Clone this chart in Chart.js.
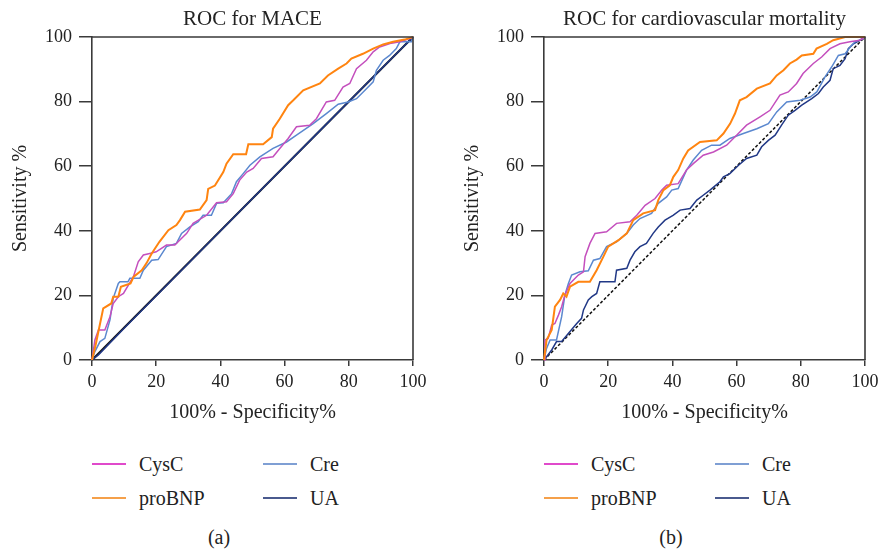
<!DOCTYPE html>
<html>
<head>
<meta charset="utf-8">
<script src="https://cdn.jsdelivr.net/npm/chart.js@4.4.0/dist/chart.umd.min.js"></script>
<style>
  body { margin: 0; background: #fff; font-family: "Liberation Serif", "DejaVu Serif", serif; color: #222; }
  #wrap { position: relative; width: 883px; height: 554px; }
  canvas { position: absolute; top: 0; }
  .leg-line { position: absolute; height: 2px; }
  .leg-text { position: absolute; font-size: 20px; line-height: 24px; white-space: nowrap; }
  .panel-tag { position: absolute; font-size: 20px; line-height: 24px; width: 60px; text-align: center; }
</style>
</head>
<body>
<div id="wrap">
  <canvas id="chartA" width="441" height="430" style="left:0px"></canvas>
  <canvas id="chartB" width="431" height="430" style="left:452px"></canvas>
</div>
<script>
// points are [100% - specificity, sensitivity]
const seriesNames = ['CysC', 'proBNP', 'Cre', 'UA'];
const lineColors = { CysC: '#c44fbd', proBNP: '#ff8410', Cre: '#5b88cf', UA: '#213886' };
const legendColors = { CysC: '#e04acb', proBNP: '#f5a04a', Cre: '#7f9fd4', UA: '#4a5a8e' };
const xTicks = [0, 20, 40, 60, 80, 100];
const yTicks = [0, 20, 40, 60, 80, 100];
const diagonal = [[0, 0], [100, 100]];

// (a) ROC for MACE
const aCysC = [[0,0],[0.9,6.2],[2,9.3],[4,9.3],[5.6,13.4],[6.6,17.5],[8.2,19.6],[9.8,20.6],[12.9,25.8],[14.4,30.4],[16,32.5],[18,33],[20,33.5],[23.2,35.6],[25.8,35.6],[29.5,39.2],[31.5,42.3],[35.7,44.8],[38.8,48.7],[41.9,49],[44,51.5],[46,55.7],[48.2,58.2],[50.2,59.3],[52.8,62.4],[56.4,62.9],[58.5,65.5],[61.1,68.6],[63.7,72.2],[67.8,72.7],[69.9,74.7],[73,79.9],[75.6,80.4],[78.2,84.5],[80.3,85.6],[82.4,90.2],[85.5,92.8],[87.6,95.4],[89.6,96.9],[93.3,98.1],[95.9,98.5],[99,99.5],[100,100]];
const aProBNP = [[0,0],[1,4],[2,8.8],[3.5,16],[6,17.5],[6.6,19.6],[8.2,19.6],[9,22.7],[12,23.7],[13,25.8],[15.5,27.8],[17,30],[18.6,33],[21,36.6],[23.8,40.2],[26.3,41.8],[27.4,43.3],[29,45.9],[33.6,46.6],[35.7,49.5],[36.2,53],[38.3,54],[40.9,58.2],[41.9,60.8],[44,63.7],[48,63.7],[48.7,66.8],[53.3,66.8],[56,69],[56.4,71.6],[58.5,74.7],[61.1,78.9],[62.7,80.4],[65.8,83.5],[71,85.6],[73.5,88.1],[76.7,90.2],[79.3,91.8],[80.8,93.3],[84.4,94.8],[87.6,96.4],[90.7,97.7],[93.8,98.5],[97.4,99.2],[100,100]];
const aCre = [[0,0],[0.9,2.6],[2.5,5.7],[4,6.7],[5.6,12.4],[6.6,19.1],[8.2,23.7],[8.7,24.2],[11.2,24.2],[11.8,25.3],[14.9,25.3],[16,27.8],[18.6,30.9],[20.6,31.1],[23.2,35.1],[26.3,36.1],[27.9,39.2],[30.5,41.2],[33.1,42.8],[34.6,44.8],[37.2,44.8],[38.8,48.5],[40.9,48.7],[43.5,51.5],[45,55.2],[47.1,57.7],[49.2,60.3],[52.3,62.9],[56.4,65.5],[60.6,67.5],[63.7,69.6],[68.9,73.2],[73,76.3],[76.7,79.2],[79.8,79.9],[82.4,80.9],[85.5,84],[87.6,86.1],[88.6,89.7],[90.7,92.8],[92.7,94.3],[94.8,96.4],[95.9,98.5],[99.5,98.5],[100,100]];
const aUA = [[0,0],[2,1.6],[10,9.8],[30,29.9],[50,50],[70,70],[90,90],[100,100]];

// (b) ROC for cardiovascular mortality
const bCysC = [[0,0],[0.3,6.2],[1.3,6.7],[2.4,10.8],[3.4,11.3],[4.5,13.9],[5.5,16.5],[6.5,20.1],[8.1,23.7],[10.7,26.3],[12.3,27.3],[12.8,32],[14.3,36.1],[15.9,39.2],[19.5,39.7],[22.6,42.3],[26.8,42.8],[28.9,44.8],[31.5,47.9],[34.6,50],[36.7,52.6],[38.2,54.1],[41.8,54.6],[44.4,58.8],[46.5,60.8],[49.6,63.4],[52.8,64.4],[56.9,66.5],[60,69.6],[63.1,72.7],[67.3,75.3],[70.4,77.3],[73.5,82],[76.1,83],[78.7,85.6],[80.7,88.7],[83.9,91.8],[86.5,93.8],[89.1,96.4],[92.2,97.9],[95.3,98.5],[98.4,99],[100,100]];
const bProBNP = [[0,0],[0.8,6.2],[2.4,9.3],[3.4,16.5],[5,18.6],[6,20.6],[7,19.6],[8.1,22.7],[10.7,24.2],[14.3,24.2],[16.4,27.8],[18.5,32],[20,35.1],[23.2,37.1],[25.8,39.2],[27.8,43.3],[30.9,45.4],[34.6,46.4],[35.6,49.5],[37.2,52.6],[39.2,54.1],[40.3,56.7],[41.8,58.8],[43.4,62.4],[44.9,64.9],[48.6,67.5],[53.8,68],[55.9,70.1],[58,73.2],[59.5,76.3],[61,80.4],[63.1,81.4],[66.3,84],[70.4,85.6],[72.5,88.1],[74.6,89.7],[76.6,91.8],[78.7,93],[80.3,94.3],[83.9,94.8],[84.9,96.4],[88.1,97.9],[90.1,99],[93.8,100],[100,100]];
const bCre = [[0,0],[0.8,3.6],[1.9,6.2],[3.9,6.2],[5.5,13.4],[6.5,20.1],[7.6,23.7],[8.6,26.3],[11.2,27.3],[13.8,27.6],[15.4,30.9],[17.4,31.4],[19.5,35.1],[22.6,36.6],[25.8,39.2],[27.8,41.8],[29.9,43.8],[33.5,45.4],[35.6,48.5],[38.2,50.5],[39.8,52.6],[41.8,53.1],[44.4,58.8],[46.5,61.9],[49.1,64.9],[52.2,66.5],[54.8,66.5],[57.9,68.6],[62.1,70.1],[66.3,71.6],[69.9,73.2],[72.5,76.8],[75.6,79.9],[79.8,80.4],[82.9,81.4],[85,83],[87.5,87.6],[89.6,90.7],[91.7,94.3],[93.8,94.8],[95.8,97.4],[96.9,98.5],[99.5,99.5],[100,100]];
const bUA = [[0,0],[0.8,1],[2.4,3.1],[3.9,5.7],[5.5,5.7],[8.1,8.8],[10.2,11.3],[11.7,12.9],[12.3,15.5],[13.8,18.6],[14.9,19.6],[16.4,20.6],[17.4,24.2],[22.1,24.2],[22.6,27.8],[25.8,28.4],[26.8,30.9],[28.3,33.5],[29.9,35.1],[31.9,36.1],[34,39.2],[35.6,41.2],[37.7,43.3],[40.2,44.8],[42.4,46.4],[45.5,46.9],[47.6,49.5],[49.6,51],[51.7,52.6],[54.8,55.2],[55.9,56.7],[57.9,57.7],[60.6,60.3],[63.1,62.4],[66.3,63.4],[67.8,66],[69.9,68],[72,69.6],[74,72.7],[76.1,75.8],[78.2,77.3],[80.3,78.9],[83.4,80.9],[85.5,82.5],[87,84.5],[89.1,86.6],[90.1,90.2],[92.2,91.2],[93.8,93.3],[94.8,96.4],[96.4,97.9],[98.4,99],[100,100]];

const FONT = '"Liberation Serif", "DejaVu Serif", serif';
const INK = '#222';
const AXIS = '#3a3a3a';

const toXY = pts => pts.map(p => ({ x: p[0], y: p[1] }));

// top + right edge of the plot box
const framePlugin = {
  id: 'frame',
  afterDraw(chart) {
    const { ctx, chartArea: a } = chart;
    ctx.save();
    ctx.strokeStyle = AXIS;
    ctx.lineWidth = 1.6;
    ctx.beginPath();
    ctx.moveTo(a.left, a.top);
    ctx.lineTo(a.right, a.top);
    ctx.lineTo(a.right, a.bottom);
    ctx.stroke();
    ctx.restore();
  }
};

function makeChart(id, title, curves, dashedDiag, rightPad) {
  const sets = [];
  // proBNP on top, then CysC, Cre, UA, diagonal at the bottom
  ['proBNP', 'CysC', 'Cre', 'UA'].forEach(name => {
    sets.push({
      label: name,
      data: toXY(curves[name]),
      borderColor: lineColors[name],
      borderWidth: name === 'proBNP' ? 2 : 1.5,
      pointRadius: 0,
      tension: 0,
      clip: 4
    });
  });
  sets.push({
    label: 'reference',
    data: toXY(diagonal),
    borderColor: '#111',
    borderWidth: dashedDiag ? 1.5 : 2,
    borderDash: dashedDiag ? [3, 2] : [],
    pointRadius: 0,
    clip: 4
  });

  return new Chart(document.getElementById(id).getContext('2d'), {
    type: 'line',
    data: { datasets: sets },
    plugins: [framePlugin],
    options: {
      responsive: false,
      animation: false,
      layout: { padding: { left: 0, right: rightPad, top: 0, bottom: 0 } },
      plugins: {
        legend: { display: false },
        tooltip: { enabled: false },
        title: {
          display: true,
          fullSize: false,
          text: title,
          color: INK,
          font: { family: FONT, size: 21, weight: 'normal' },
          padding: { top: 6.4, bottom: 5.4 }
        }
      },
      scales: {
        x: {
          type: 'linear', min: 0, max: 100,
          afterBuildTicks: s => { s.ticks = xTicks.map(v => ({ value: v })); },
          afterFit: s => { s.height = 70; s.paddingLeft = 0; s.paddingRight = 0; },
          ticks: { color: INK, font: { family: FONT, size: 18 }, padding: 5, maxRotation: 0 },
          grid: { drawOnChartArea: false, drawTicks: true, tickLength: 6, color: AXIS, lineWidth: 1.5 },
          border: { display: true, color: AXIS, width: 1.6 },
          title: { display: true, text: '100% - Specificity%', color: INK,
                   font: { family: FONT, size: 20 }, padding: { top: 0, bottom: 5 } }
        },
        y: {
          type: 'linear', min: 0, max: 100,
          afterBuildTicks: s => { s.ticks = yTicks.map(v => ({ value: v })); },
          afterFit: s => { s.width = 92; s.paddingTop = 0; s.paddingBottom = 0; },
          ticks: { color: INK, font: { family: FONT, size: 18 }, padding: 7 },
          grid: { drawOnChartArea: false, drawTicks: true, tickLength: 13, color: AXIS, lineWidth: 1.5 },
          border: { display: true, color: AXIS, width: 1.6 },
          title: { display: true, text: 'Sensitivity %', color: INK,
                   font: { family: FONT, size: 20 }, padding: { top: 9, bottom: 0 } }
        }
      }
    }
  });
}

makeChart('chartA', 'ROC for MACE', { CysC: aCysC, proBNP: aProBNP, Cre: aCre, UA: aUA }, false, 28);
makeChart('chartB', 'ROC for cardiovascular mortality', { CysC: bCysC, proBNP: bProBNP, Cre: bCre, UA: bUA }, true, 18);

// legends + panel tags under each chart
const wrap = document.getElementById('wrap');
function addLegend(offsetX, tag) {
  const cols = [{ line: 92, text: 139 }, { line: 263, text: 310 }];
  const rows = [464, 498];
  const layout = [['CysC', 0, 0], ['Cre', 1, 0], ['proBNP', 0, 1], ['UA', 1, 1]];
  layout.forEach(([name, c, r]) => {
    const ln = document.createElement('div');
    ln.className = 'leg-line';
    ln.style.left = (offsetX + cols[c].line) + 'px';
    ln.style.width = '34px';
    ln.style.top = (rows[r] - 1) + 'px';
    ln.style.background = legendColors[name];
    wrap.appendChild(ln);
    const tx = document.createElement('span');
    tx.className = 'leg-text';
    tx.style.left = (offsetX + cols[c].text) + 'px';
    tx.style.top = (rows[r] - 12) + 'px';
    tx.textContent = name;
    wrap.appendChild(tx);
  });
  const t = document.createElement('div');
  t.className = 'panel-tag';
  t.style.left = (offsetX + 219 - 30) + 'px';
  t.style.top = (537 - 12) + 'px';
  t.textContent = tag;
  wrap.appendChild(t);
}
addLegend(0, '(a)');
addLegend(452, '(b)');
</script>
</body>
</html>
